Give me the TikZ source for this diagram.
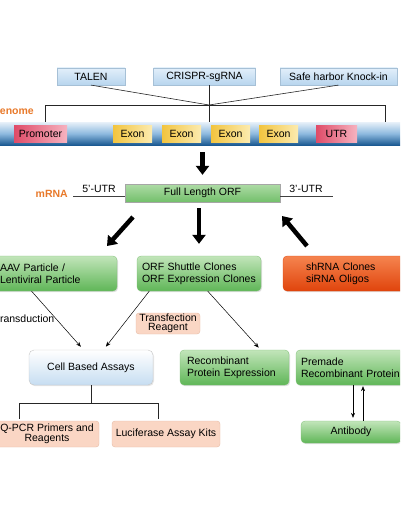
\documentclass[tikz,border=0pt]{standalone}
\usepackage{fontspec}
\setmainfont{Liberation Sans}
\usetikzlibrary{arrows.meta,shadows,calc}
\definecolor{gtop}{HTML}{C2E5BA}
\definecolor{gbot}{HTML}{5FB657}
\definecolor{gline}{HTML}{7DBF75}
\definecolor{otop}{HTML}{F5844F}
\definecolor{obot}{HTML}{E0440C}
\definecolor{peach}{HTML}{FAD6C4}
\definecolor{peachl}{HTML}{E5BBA5}
\definecolor{btop}{HTML}{E2EFFA}
\definecolor{bbot}{HTML}{B8D5EE}
\definecolor{orng}{HTML}{E8792A}
\definecolor{pinkd}{HTML}{DF4B68}
\definecolor{pinkl}{HTML}{F6B3C0}
\definecolor{yeld}{HTML}{F2C43E}
\definecolor{yell}{HTML}{FCEBB0}
\definecolor{bandt}{HTML}{E8F1F9}
\definecolor{bandm}{HTML}{8EBADF}
\definecolor{bandb}{HTML}{1B5A92}
\tikzset{
  toolbox/.style={rectangle, inner sep=0pt, minimum height=17pt, top color=btop, bottom color=bbot, draw=bbot!90!black, line width=0.2pt},
  bandbox/.style={rectangle, inner sep=0pt, minimum width=400pt, minimum height=23pt, top color=bandt, bottom color=bandb, middle color=bandm},
  pinkbox/.style={rectangle, inner sep=0pt, minimum height=17pt, left color=pinkd, right color=pinkl},
  exonbox/.style={rectangle, inner sep=0pt, minimum height=17pt, minimum width=39pt, left color=yeld, right color=yell},
  orfbox/.style={rectangle, inner sep=0pt, minimum height=18pt, top color=gtop!80!gbot, bottom color=gbot!80!gtop, draw=gray!70, line width=0.3pt},
  greenbox/.style={rectangle, rounded corners=4pt, inner ysep=0pt, top color=gtop, bottom color=gbot, draw=gline, line width=0.3pt, align=left, drop shadow={opacity=0.25, shadow xshift=1pt, shadow yshift=-1.2pt}},
  orangebox/.style={rectangle, rounded corners=4pt, inner ysep=0pt, top color=otop, bottom color=obot, draw=obot, line width=0.3pt, align=left, drop shadow={opacity=0.25, shadow xshift=1pt, shadow yshift=-1.2pt}},
  peachbox/.style={rectangle, rounded corners=3pt, inner sep=0pt, fill=peach, draw=peachl, line width=0.4pt, align=center, font=\fontsize{10.5}{9.5}\selectfont},
  cellbox/.style={rectangle, rounded corners=5pt, inner sep=0pt, top color=white, bottom color=bbot!80!white, draw=gray!45, line width=0.4pt, drop shadow={opacity=0.2, shadow xshift=1pt, shadow yshift=-1.2pt}},
  orangetext/.style={text=orng, font=\fontsize{10.5}{12}\selectfont\bfseries, inner sep=0pt},
  plain/.style={inner sep=0pt},
  bigarrow/.style={line width=4.5pt, -{Triangle[length=9pt, width=13pt]}},
  thinarrow/.style={line width=0.5pt, -{Stealth[length=5pt, width=4pt]}},
  conn/.style={line width=0.6pt, draw=black!85}
}
\begin{document}
\begin{tikzpicture}[x=1pt, y=-1pt, font=\fontsize{10.5}{12}\selectfont]
\useasboundingbox (0,0) rectangle (400,516);
\clip (0,0) rectangle (400,516);

% top tools
\node[toolbox, minimum width=68pt] (talen) at (91,76.5) {TALEN};
\node[toolbox, minimum width=102pt] (crispr) at (204.5,76.5) {CRISPR-sgRNA};
\node[toolbox, minimum width=117pt] (safe) at (338.5,76.5) {Safe harbor Knock-in};

\coordinate (j) at (209,105);
\coordinate (bl) at (45,105);
\coordinate (br) at (385,105);

% genome band
\node[bandbox] (band) at (200,133.5) {};
\node[pinkbox, minimum width=53pt] (prom) at (40.5,133.5) {Promoter};
\node[exonbox] (ex1) at (132.5,133.5) {Exon};
\node[exonbox] (ex2) at (181.5,133.5) {Exon};
\node[exonbox] (ex3) at (230.5,133.5) {Exon};
\node[exonbox] (ex4) at (278.5,133.5) {Exon};
\node[pinkbox, minimum width=41pt] (utr) at (336.5,133.5) {UTR};
\node[orangetext, anchor=base east] (genome) at (34,114) {Genome};

\draw[conn] (talen.south) -- (j) -- (safe.south);
\draw[conn] (crispr.south -| j) -- (band.north -| j);
\draw[conn] (band.north -| bl) -- (bl) -- (br) -- (band.north -| br);

% mRNA
\node[orfbox, minimum width=155pt] (orf) at (202.5,193) {Full Length ORF};
\node[orangetext, anchor=base east] (mrna) at (68,197) {mRNA};
\coordinate (u5) at (73,196);
\coordinate (u3) at (333,196);
\draw[line width=0.6pt, draw=black!75] (u5) -- (u5 -| orf.west);
\draw[line width=0.6pt, draw=black!75] (u3 -| orf.east) -- (u3);
\node[plain, anchor=base] (utr5) at (99,192) {5'-UTR};
\node[plain, anchor=base] (utr3) at (306,192) {3'-UTR};

\draw[bigarrow, shorten <=7pt, shorten >=9pt] (band.south -| orf.north) -- (orf.north);

% products row
\node[greenbox, minimum width=122pt, minimum height=35pt, text width=112pt, inner xsep=5pt] (aav) at (56,273.5) {AAV Particle /\\Lentiviral Particle};
\node[greenbox, minimum width=124pt, minimum height=35pt, text width=114pt, inner xsep=5pt] (orfc) at (199,273.5) {ORF Shuttle Clones\\ORF Expression Clones};
\node[orangebox, minimum width=122pt, minimum height=35pt, text width=76pt, inner xsep=23pt] (sh) at (344,273.5) {shRNA Clones\\siRNA Oligos};

\coordinate (l1) at (133,217);
\coordinate (l2) at (107,246);
\coordinate (r1) at (307,246);
\coordinate (r2) at (282,216);
\draw[bigarrow] (l1) -- (l2);
\draw[bigarrow, shorten <=6pt, shorten >=12pt] (orf.south -| orfc.north) -- (orfc.north);
\draw[bigarrow] (r1) -- (r2);

% assays row
\node[peachbox, minimum width=64pt, minimum height=21pt] (transf) at (168,323.5) {Transfection\\Reagent};
\node[plain, anchor=base east] (transd) at (54.5,322) {Transduction};
\node[cellbox, minimum width=124pt, minimum height=35pt] (cell) at (91,367.5) {Cell Based Assays};
\node[greenbox, minimum width=109pt, minimum height=35pt, text width=95pt, inner xsep=7pt] (rec) at (234.5,367.5) {Recombinant\\Protein Expression};
\node[greenbox, minimum width=100pt, minimum height=35pt, text width=100pt, inner xsep=5pt] (prem) at (351,367.5) {Premade\\Recombinant Protein};

\draw[thinarrow, shorten >=4pt] ($(aav.south west)!0.3!(aav.south east)$) -- ($(cell.north west)!0.44!(cell.north east)$);
\draw[thinarrow, shorten >=4pt] ($(orfc.south west)!0.1!(orfc.south east)$) -- ($(cell.north west)!0.6!(cell.north east)$);
\draw[thinarrow, shorten >=3pt] ($(orfc.south west)!0.57!(orfc.south east)$) -- ($(rec.north west)!0.74!(rec.north east)$);

% kits row
\node[peachbox, minimum width=104pt, minimum height=26pt] (qpcr) at (47,434) {Q-PCR Primers and\\Reagents};
\node[peachbox, minimum width=108pt, minimum height=26pt] (luc) at (166,434) {Luciferase Assay Kits};
\node[greenbox, minimum width=100pt, minimum height=22pt, align=center] (ab) at (351,432) {Antibody};

\coordinate (tl) at (19,403);
\coordinate (tr) at (158,403);
\draw[conn] (cell.south) -- (cell.south |- tl);
\draw[conn] ([yshift=2pt]qpcr.north -| tl) -- (tl) -- (tr) -- ([yshift=2pt]luc.north -| tr);

\coordinate (dn) at (353,0);
\coordinate (up) at (363,0);
\draw[thinarrow, shorten >=3pt] (prem.south -| dn) -- (ab.north -| dn);
\draw[thinarrow, shorten >=1pt] (ab.north -| up) -- (prem.south -| up);
\end{tikzpicture}
\end{document}
